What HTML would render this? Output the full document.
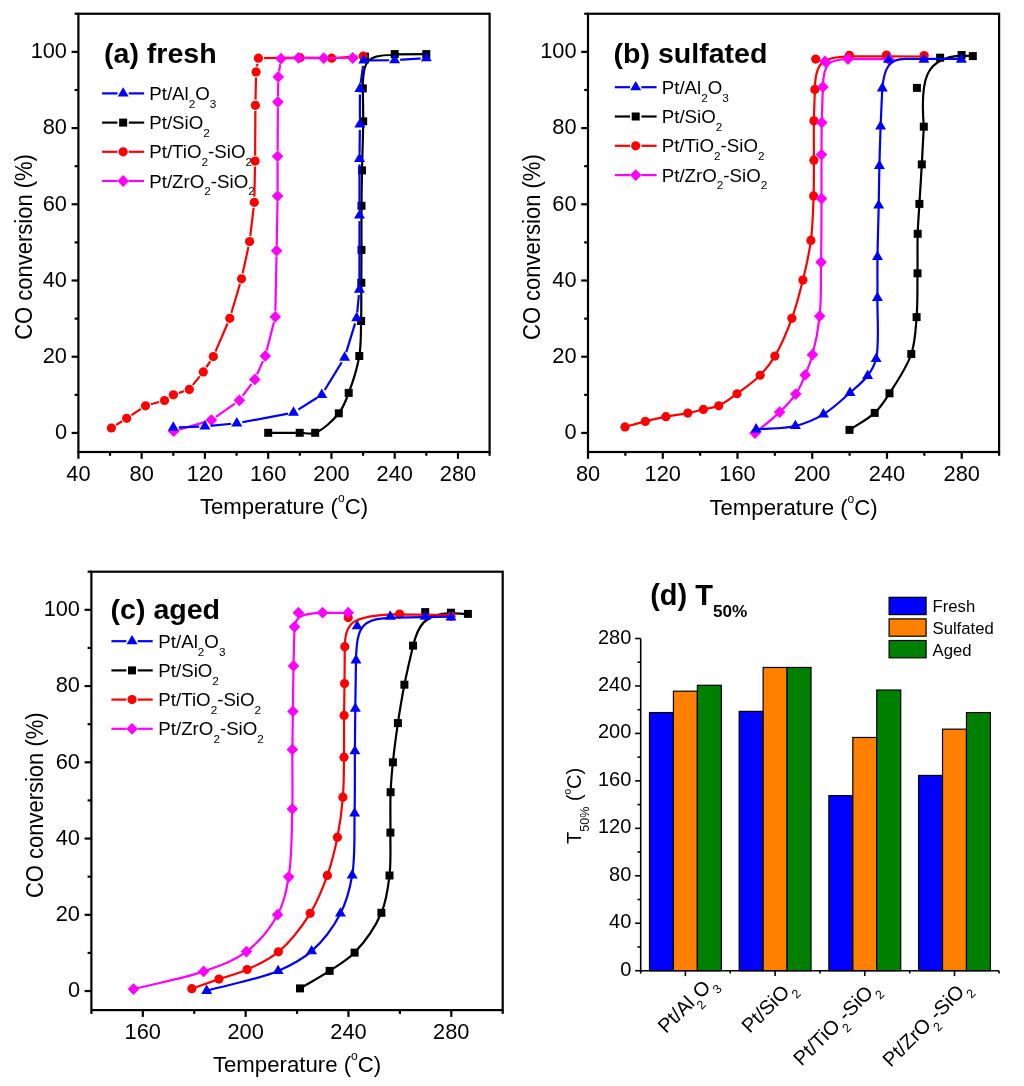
<!DOCTYPE html><html><head><meta charset="utf-8"><style>html,body{margin:0;padding:0;background:#fff;}svg{display:block;will-change:transform;}text{font-family:"Liberation Sans", sans-serif;fill:#000;}</style></head><body>
<svg width="1024" height="1086" viewBox="0 0 1024 1086">
<rect width="1024" height="1086" fill="#fff"/>
<defs><mask id="m0" maskUnits="userSpaceOnUse" x="0" y="0" width="1024" height="1086"><rect width="1024" height="1086" fill="#fff"/><circle cx="111.4" cy="428" r="5.7" fill="#000"/><circle cx="126.7" cy="418.3" r="5.7" fill="#000"/><circle cx="145.5" cy="405.8" r="5.7" fill="#000"/><circle cx="164.5" cy="400.5" r="5.7" fill="#000"/><circle cx="173.4" cy="394.8" r="5.7" fill="#000"/><circle cx="189.3" cy="389.4" r="5.7" fill="#000"/><circle cx="203.3" cy="371.9" r="5.7" fill="#000"/><circle cx="213.3" cy="356.6" r="5.7" fill="#000"/><circle cx="229.8" cy="318.3" r="5.7" fill="#000"/><circle cx="241.5" cy="278.8" r="5.7" fill="#000"/><circle cx="249.6" cy="241.5" r="5.7" fill="#000"/><circle cx="254.3" cy="202.3" r="5.7" fill="#000"/><circle cx="255.1" cy="161.1" r="5.7" fill="#000"/><circle cx="255.4" cy="105.3" r="5.7" fill="#000"/><circle cx="256.1" cy="71.9" r="5.7" fill="#000"/><circle cx="258.4" cy="58.2" r="5.7" fill="#000"/><circle cx="300" cy="57.7" r="5.7" fill="#000"/><circle cx="331.7" cy="58.2" r="5.7" fill="#000"/><circle cx="363.2" cy="56.2" r="5.7" fill="#000"/></mask><mask id="m1" maskUnits="userSpaceOnUse" x="0" y="0" width="1024" height="1086"><rect width="1024" height="1086" fill="#fff"/><circle cx="173.7" cy="431.2" r="5.7" fill="#000"/><circle cx="211.4" cy="420.1" r="5.7" fill="#000"/><circle cx="239.4" cy="400.3" r="5.7" fill="#000"/><circle cx="254.8" cy="379.4" r="5.7" fill="#000"/><circle cx="265.3" cy="355.9" r="5.7" fill="#000"/><circle cx="275.3" cy="316.8" r="5.7" fill="#000"/><circle cx="276.6" cy="250.7" r="5.7" fill="#000"/><circle cx="277.6" cy="196.1" r="5.7" fill="#000"/><circle cx="277.6" cy="156.3" r="5.7" fill="#000"/><circle cx="277.9" cy="102" r="5.7" fill="#000"/><circle cx="278.3" cy="76.9" r="5.7" fill="#000"/><circle cx="281" cy="58.7" r="5.7" fill="#000"/><circle cx="298.5" cy="57.8" r="5.7" fill="#000"/><circle cx="323.7" cy="58.2" r="5.7" fill="#000"/><circle cx="352.7" cy="58" r="5.7" fill="#000"/></mask><mask id="m2" maskUnits="userSpaceOnUse" x="0" y="0" width="1024" height="1086"><rect width="1024" height="1086" fill="#fff"/><circle cx="173.3" cy="427.57" r="5.7" fill="#000"/><circle cx="204.9" cy="426.37" r="5.7" fill="#000"/><circle cx="236.8" cy="423.27" r="5.7" fill="#000"/><circle cx="293.5" cy="412.57" r="5.7" fill="#000"/><circle cx="321.8" cy="394.77" r="5.7" fill="#000"/><circle cx="344.6" cy="357.57" r="5.7" fill="#000"/><circle cx="356.7" cy="318.07" r="5.7" fill="#000"/><circle cx="359.4" cy="289.57" r="5.7" fill="#000"/><circle cx="359.5" cy="215.47" r="5.7" fill="#000"/><circle cx="359.5" cy="158.87" r="5.7" fill="#000"/><circle cx="359.9" cy="124.27" r="5.7" fill="#000"/><circle cx="359.9" cy="88.87" r="5.7" fill="#000"/><circle cx="363.8" cy="60.37" r="5.7" fill="#000"/><circle cx="394.6" cy="60.07" r="5.7" fill="#000"/><circle cx="426.3" cy="58.17" r="5.7" fill="#000"/></mask></defs>
<rect x="78.4" y="13.75" width="411.2" height="438.25" fill="none" stroke="#000" stroke-width="2.2"/><line x1="71.6" y1="432.95" x2="78.4" y2="432.95" stroke="#000" stroke-width="2.2"/><text x="0" y="0" transform="translate(67 439.25)" font-size="21.8" text-anchor="end" font-weight="normal">0</text><line x1="71.6" y1="356.73" x2="78.4" y2="356.73" stroke="#000" stroke-width="2.2"/><text x="0" y="0" transform="translate(67 363.03)" font-size="21.8" text-anchor="end" font-weight="normal">20</text><line x1="71.6" y1="280.51" x2="78.4" y2="280.51" stroke="#000" stroke-width="2.2"/><text x="0" y="0" transform="translate(67 286.81)" font-size="21.8" text-anchor="end" font-weight="normal">40</text><line x1="71.6" y1="204.29" x2="78.4" y2="204.29" stroke="#000" stroke-width="2.2"/><text x="0" y="0" transform="translate(67 210.59)" font-size="21.8" text-anchor="end" font-weight="normal">60</text><line x1="71.6" y1="128.08" x2="78.4" y2="128.08" stroke="#000" stroke-width="2.2"/><text x="0" y="0" transform="translate(67 134.38)" font-size="21.8" text-anchor="end" font-weight="normal">80</text><line x1="71.6" y1="51.86" x2="78.4" y2="51.86" stroke="#000" stroke-width="2.2"/><text x="0" y="0" transform="translate(67 58.16)" font-size="21.8" text-anchor="end" font-weight="normal">100</text><line x1="74.6" y1="394.84" x2="78.4" y2="394.84" stroke="#000" stroke-width="2.2"/><line x1="74.6" y1="318.62" x2="78.4" y2="318.62" stroke="#000" stroke-width="2.2"/><line x1="74.6" y1="242.4" x2="78.4" y2="242.4" stroke="#000" stroke-width="2.2"/><line x1="74.6" y1="166.18" x2="78.4" y2="166.18" stroke="#000" stroke-width="2.2"/><line x1="74.6" y1="89.97" x2="78.4" y2="89.97" stroke="#000" stroke-width="2.2"/><line x1="74.6" y1="13.75" x2="78.4" y2="13.75" stroke="#000" stroke-width="2.2"/><line x1="78.4" y1="452" x2="78.4" y2="458.8" stroke="#000" stroke-width="2.2"/><text x="0" y="0" transform="translate(78.4 480.9)" font-size="21.8" text-anchor="middle" font-weight="normal">40</text><line x1="141.66" y1="452" x2="141.66" y2="458.8" stroke="#000" stroke-width="2.2"/><text x="0" y="0" transform="translate(141.66 480.9)" font-size="21.8" text-anchor="middle" font-weight="normal">80</text><line x1="204.92" y1="452" x2="204.92" y2="458.8" stroke="#000" stroke-width="2.2"/><text x="0" y="0" transform="translate(204.92 480.9)" font-size="21.8" text-anchor="middle" font-weight="normal">120</text><line x1="268.18" y1="452" x2="268.18" y2="458.8" stroke="#000" stroke-width="2.2"/><text x="0" y="0" transform="translate(268.18 480.9)" font-size="21.8" text-anchor="middle" font-weight="normal">160</text><line x1="331.45" y1="452" x2="331.45" y2="458.8" stroke="#000" stroke-width="2.2"/><text x="0" y="0" transform="translate(331.45 480.9)" font-size="21.8" text-anchor="middle" font-weight="normal">200</text><line x1="394.71" y1="452" x2="394.71" y2="458.8" stroke="#000" stroke-width="2.2"/><text x="0" y="0" transform="translate(394.71 480.9)" font-size="21.8" text-anchor="middle" font-weight="normal">240</text><line x1="457.97" y1="452" x2="457.97" y2="458.8" stroke="#000" stroke-width="2.2"/><text x="0" y="0" transform="translate(457.97 480.9)" font-size="21.8" text-anchor="middle" font-weight="normal">280</text><line x1="110.03" y1="452" x2="110.03" y2="455.8" stroke="#000" stroke-width="2.2"/><line x1="173.29" y1="452" x2="173.29" y2="455.8" stroke="#000" stroke-width="2.2"/><line x1="236.55" y1="452" x2="236.55" y2="455.8" stroke="#000" stroke-width="2.2"/><line x1="299.82" y1="452" x2="299.82" y2="455.8" stroke="#000" stroke-width="2.2"/><line x1="363.08" y1="452" x2="363.08" y2="455.8" stroke="#000" stroke-width="2.2"/><line x1="426.34" y1="452" x2="426.34" y2="455.8" stroke="#000" stroke-width="2.2"/><line x1="489.6" y1="452" x2="489.6" y2="455.8" stroke="#000" stroke-width="2.2"/><text x="0" y="0" transform="translate(32 339.8) rotate(-90) scale(1 1.09)" font-size="22" text-anchor="start" font-weight="normal">CO conversion (%)</text><text x="0" y="0" transform="translate(284 513.8)" font-size="22.2" text-anchor="middle" font-weight="normal">Temperature (<tspan font-size="12" dy="-11.8">o</tspan><tspan dy="11.8">C)</tspan></text><text x="0" y="0" transform="translate(104 63.4) scale(1.0200 1)" font-size="28" text-anchor="start" font-weight="bold">(a) fresh</text><line x1="102.1" y1="93.4" x2="117.45" y2="93.4" stroke="#0000ff" stroke-width="2.2"/><line x1="128.85" y1="93.4" x2="144.2" y2="93.4" stroke="#0000ff" stroke-width="2.2"/><path d="M123.15 87.13L128.65 96.53L117.65 96.53Z" fill="#0000ff"/><text x="0" y="0" transform="translate(149.25 99.9) scale(1.0500 1)" font-size="17.8" text-anchor="start" font-weight="normal">Pt/Al<tspan font-size="11.2" dy="7.85">2</tspan><tspan dy="-7.85">O</tspan><tspan font-size="11.2" dy="7.85">3</tspan></text><line x1="102.1" y1="122.6" x2="117.45" y2="122.6" stroke="#000000" stroke-width="2.2"/><line x1="128.85" y1="122.6" x2="144.2" y2="122.6" stroke="#000000" stroke-width="2.2"/><rect x="119.15" y="118.6" width="8" height="8" fill="#000000"/><text x="0" y="0" transform="translate(149.25 129.1) scale(1.0500 1)" font-size="17.8" text-anchor="start" font-weight="normal">Pt/SiO<tspan font-size="11.2" dy="7.85">2</tspan></text><line x1="102.1" y1="151.8" x2="117.45" y2="151.8" stroke="#ff0000" stroke-width="2.2"/><line x1="128.85" y1="151.8" x2="144.2" y2="151.8" stroke="#ff0000" stroke-width="2.2"/><circle cx="123.15" cy="151.8" r="4.6" fill="#ff0000"/><text x="0" y="0" transform="translate(149.25 158.3) scale(1.0500 1)" font-size="17.8" text-anchor="start" font-weight="normal">Pt/TiO<tspan font-size="11.2" dy="7.85">2</tspan><tspan dy="-7.85">-SiO</tspan><tspan font-size="11.2" dy="7.85">2</tspan></text><line x1="102.1" y1="181" x2="117.45" y2="181" stroke="#ff00ff" stroke-width="2.2"/><line x1="128.85" y1="181" x2="144.2" y2="181" stroke="#ff00ff" stroke-width="2.2"/><path d="M123.15 175.1L128.95 181L123.15 186.9L117.35 181Z" fill="#ff00ff"/><text x="0" y="0" transform="translate(149.25 187.5) scale(1.0500 1)" font-size="17.8" text-anchor="start" font-weight="normal">Pt/ZrO<tspan font-size="11.2" dy="7.85">2</tspan><tspan dy="-7.85">-SiO</tspan><tspan font-size="11.2" dy="7.85">2</tspan></text>
<path d="M268.2 432.8C278.7 432.8 291.04 432.8 299.7 432.8C305.77 432.8 309.85 434.72 315.2 432.8C322.71 430.1 333.1 420.55 338.8 413.3C343.71 407.06 345.65 400.85 348.7 392.9C352.66 382.55 357.25 368.25 359.3 356C361.26 344.29 360.76 332.93 361.1 321C361.45 308.55 361.23 295.06 361.3 282.8C361.36 271.42 361.46 261.67 361.5 249.9C361.54 236.27 361.4 219.69 361.5 205.8C361.59 193.35 361.75 183.16 362 170.4C362.29 155.37 363.11 136.03 363.2 121.3C363.27 109.24 362.93 99.37 362.8 88.4C362.6 60 368 55 391.3 55L394.7 54.4L426.3 54.1" fill="none" stroke="#000000" stroke-width="2.2" stroke-linejoin="round"/><rect x="264.2" y="428.8" width="8" height="8" fill="#000000"/><rect x="295.7" y="428.8" width="8" height="8" fill="#000000"/><rect x="311.2" y="428.8" width="8" height="8" fill="#000000"/><rect x="334.8" y="409.3" width="8" height="8" fill="#000000"/><rect x="344.7" y="388.9" width="8" height="8" fill="#000000"/><rect x="355.3" y="352" width="8" height="8" fill="#000000"/><rect x="357.1" y="317" width="8" height="8" fill="#000000"/><rect x="357.3" y="278.8" width="8" height="8" fill="#000000"/><rect x="357.5" y="245.9" width="8" height="8" fill="#000000"/><rect x="357.5" y="201.8" width="8" height="8" fill="#000000"/><rect x="358" y="166.4" width="8" height="8" fill="#000000"/><rect x="359.2" y="117.3" width="8" height="8" fill="#000000"/><rect x="358.8" y="84.4" width="8" height="8" fill="#000000"/><rect x="360.9" y="52.6" width="8" height="8" fill="#000000"/><rect x="390.7" y="50.1" width="8" height="8" fill="#000000"/><rect x="422.3" y="50.1" width="8" height="8" fill="#000000"/>
<path d="M111.4 428L126.7 418.3L145.5 405.8L164.5 400.5L173.4 394.8L189.3 389.4L203.3 371.9L213.3 356.6L229.8 318.3L241.5 278.8L249.6 241.5L254.3 202.3L255.1 161.1L255.4 105.3L256.1 71.9L258.4 58.2L300 57.7L331.7 58.2L363.2 56.2" fill="none" stroke="#ff0000" stroke-width="2.2" stroke-linejoin="round" mask="url(#m0)"/><circle cx="111.4" cy="428" r="4.6" fill="#ff0000"/><circle cx="126.7" cy="418.3" r="4.6" fill="#ff0000"/><circle cx="145.5" cy="405.8" r="4.6" fill="#ff0000"/><circle cx="164.5" cy="400.5" r="4.6" fill="#ff0000"/><circle cx="173.4" cy="394.8" r="4.6" fill="#ff0000"/><circle cx="189.3" cy="389.4" r="4.6" fill="#ff0000"/><circle cx="203.3" cy="371.9" r="4.6" fill="#ff0000"/><circle cx="213.3" cy="356.6" r="4.6" fill="#ff0000"/><circle cx="229.8" cy="318.3" r="4.6" fill="#ff0000"/><circle cx="241.5" cy="278.8" r="4.6" fill="#ff0000"/><circle cx="249.6" cy="241.5" r="4.6" fill="#ff0000"/><circle cx="254.3" cy="202.3" r="4.6" fill="#ff0000"/><circle cx="255.1" cy="161.1" r="4.6" fill="#ff0000"/><circle cx="255.4" cy="105.3" r="4.6" fill="#ff0000"/><circle cx="256.1" cy="71.9" r="4.6" fill="#ff0000"/><circle cx="258.4" cy="58.2" r="4.6" fill="#ff0000"/><circle cx="300" cy="57.7" r="4.6" fill="#ff0000"/><circle cx="331.7" cy="58.2" r="4.6" fill="#ff0000"/><circle cx="363.2" cy="56.2" r="4.6" fill="#ff0000"/>
<path d="M173.7 431.2L211.4 420.1L239.4 400.3L254.8 379.4L265.3 355.9L275.3 316.8L276.6 250.7L277.6 196.1L277.6 156.3L277.9 102L278.3 76.9L281 58.7L298.5 57.8L323.7 58.2L352.7 58" fill="none" stroke="#ff00ff" stroke-width="2.2" stroke-linejoin="round" mask="url(#m1)"/><path d="M173.7 425.3L179.5 431.2L173.7 437.1L167.9 431.2Z" fill="#ff00ff"/><path d="M211.4 414.2L217.2 420.1L211.4 426L205.6 420.1Z" fill="#ff00ff"/><path d="M239.4 394.4L245.2 400.3L239.4 406.2L233.6 400.3Z" fill="#ff00ff"/><path d="M254.8 373.5L260.6 379.4L254.8 385.3L249 379.4Z" fill="#ff00ff"/><path d="M265.3 350L271.1 355.9L265.3 361.8L259.5 355.9Z" fill="#ff00ff"/><path d="M275.3 310.9L281.1 316.8L275.3 322.7L269.5 316.8Z" fill="#ff00ff"/><path d="M276.6 244.8L282.4 250.7L276.6 256.6L270.8 250.7Z" fill="#ff00ff"/><path d="M277.6 190.2L283.4 196.1L277.6 202L271.8 196.1Z" fill="#ff00ff"/><path d="M277.6 150.4L283.4 156.3L277.6 162.2L271.8 156.3Z" fill="#ff00ff"/><path d="M277.9 96.1L283.7 102L277.9 107.9L272.1 102Z" fill="#ff00ff"/><path d="M278.3 71L284.1 76.9L278.3 82.8L272.5 76.9Z" fill="#ff00ff"/><path d="M281 52.8L286.8 58.7L281 64.6L275.2 58.7Z" fill="#ff00ff"/><path d="M298.5 51.9L304.3 57.8L298.5 63.7L292.7 57.8Z" fill="#ff00ff"/><path d="M323.7 52.3L329.5 58.2L323.7 64.1L317.9 58.2Z" fill="#ff00ff"/><path d="M352.7 52.1L358.5 58L352.7 63.9L346.9 58Z" fill="#ff00ff"/>
<path d="M173.3 427.57L204.9 426.37L236.8 423.27L293.5 412.57L321.8 394.77L344.6 357.57L356.7 318.07L359.4 289.57L359.5 215.47L359.5 158.87L359.9 124.27L359.9 88.87L363.8 60.37L394.6 60.07L426.3 58.17" fill="none" stroke="#0000ff" stroke-width="2.2" stroke-linejoin="round" mask="url(#m2)"/><path d="M173.3 421.3L178.8 430.7L167.8 430.7Z" fill="#0000ff"/><path d="M204.9 420.1L210.4 429.5L199.4 429.5Z" fill="#0000ff"/><path d="M236.8 417L242.3 426.4L231.3 426.4Z" fill="#0000ff"/><path d="M293.5 406.3L299 415.7L288 415.7Z" fill="#0000ff"/><path d="M321.8 388.5L327.3 397.9L316.3 397.9Z" fill="#0000ff"/><path d="M344.6 351.3L350.1 360.7L339.1 360.7Z" fill="#0000ff"/><path d="M356.7 311.8L362.2 321.2L351.2 321.2Z" fill="#0000ff"/><path d="M359.4 283.3L364.9 292.7L353.9 292.7Z" fill="#0000ff"/><path d="M359.5 209.2L365 218.6L354 218.6Z" fill="#0000ff"/><path d="M359.5 152.6L365 162L354 162Z" fill="#0000ff"/><path d="M359.9 118L365.4 127.4L354.4 127.4Z" fill="#0000ff"/><path d="M359.9 82.6L365.4 92L354.4 92Z" fill="#0000ff"/><path d="M363.8 54.1L369.3 63.5L358.3 63.5Z" fill="#0000ff"/><path d="M394.6 53.8L400.1 63.2L389.1 63.2Z" fill="#0000ff"/><path d="M426.3 51.9L431.8 61.3L420.8 61.3Z" fill="#0000ff"/>
<rect x="588" y="13.75" width="411.1" height="438.25" fill="none" stroke="#000" stroke-width="2.2"/><line x1="581.2" y1="432.95" x2="588" y2="432.95" stroke="#000" stroke-width="2.2"/><text x="0" y="0" transform="translate(576.6 439.25)" font-size="21.8" text-anchor="end" font-weight="normal">0</text><line x1="581.2" y1="356.73" x2="588" y2="356.73" stroke="#000" stroke-width="2.2"/><text x="0" y="0" transform="translate(576.6 363.03)" font-size="21.8" text-anchor="end" font-weight="normal">20</text><line x1="581.2" y1="280.51" x2="588" y2="280.51" stroke="#000" stroke-width="2.2"/><text x="0" y="0" transform="translate(576.6 286.81)" font-size="21.8" text-anchor="end" font-weight="normal">40</text><line x1="581.2" y1="204.29" x2="588" y2="204.29" stroke="#000" stroke-width="2.2"/><text x="0" y="0" transform="translate(576.6 210.59)" font-size="21.8" text-anchor="end" font-weight="normal">60</text><line x1="581.2" y1="128.08" x2="588" y2="128.08" stroke="#000" stroke-width="2.2"/><text x="0" y="0" transform="translate(576.6 134.38)" font-size="21.8" text-anchor="end" font-weight="normal">80</text><line x1="581.2" y1="51.86" x2="588" y2="51.86" stroke="#000" stroke-width="2.2"/><text x="0" y="0" transform="translate(576.6 58.16)" font-size="21.8" text-anchor="end" font-weight="normal">100</text><line x1="584.2" y1="394.84" x2="588" y2="394.84" stroke="#000" stroke-width="2.2"/><line x1="584.2" y1="318.62" x2="588" y2="318.62" stroke="#000" stroke-width="2.2"/><line x1="584.2" y1="242.4" x2="588" y2="242.4" stroke="#000" stroke-width="2.2"/><line x1="584.2" y1="166.18" x2="588" y2="166.18" stroke="#000" stroke-width="2.2"/><line x1="584.2" y1="89.97" x2="588" y2="89.97" stroke="#000" stroke-width="2.2"/><line x1="584.2" y1="13.75" x2="588" y2="13.75" stroke="#000" stroke-width="2.2"/><line x1="588" y1="452" x2="588" y2="458.8" stroke="#000" stroke-width="2.2"/><text x="0" y="0" transform="translate(588 480.9)" font-size="21.8" text-anchor="middle" font-weight="normal">80</text><line x1="662.75" y1="452" x2="662.75" y2="458.8" stroke="#000" stroke-width="2.2"/><text x="0" y="0" transform="translate(662.75 480.9)" font-size="21.8" text-anchor="middle" font-weight="normal">120</text><line x1="737.49" y1="452" x2="737.49" y2="458.8" stroke="#000" stroke-width="2.2"/><text x="0" y="0" transform="translate(737.49 480.9)" font-size="21.8" text-anchor="middle" font-weight="normal">160</text><line x1="812.24" y1="452" x2="812.24" y2="458.8" stroke="#000" stroke-width="2.2"/><text x="0" y="0" transform="translate(812.24 480.9)" font-size="21.8" text-anchor="middle" font-weight="normal">200</text><line x1="886.98" y1="452" x2="886.98" y2="458.8" stroke="#000" stroke-width="2.2"/><text x="0" y="0" transform="translate(886.98 480.9)" font-size="21.8" text-anchor="middle" font-weight="normal">240</text><line x1="961.73" y1="452" x2="961.73" y2="458.8" stroke="#000" stroke-width="2.2"/><text x="0" y="0" transform="translate(961.73 480.9)" font-size="21.8" text-anchor="middle" font-weight="normal">280</text><line x1="625.37" y1="452" x2="625.37" y2="455.8" stroke="#000" stroke-width="2.2"/><line x1="700.12" y1="452" x2="700.12" y2="455.8" stroke="#000" stroke-width="2.2"/><line x1="774.86" y1="452" x2="774.86" y2="455.8" stroke="#000" stroke-width="2.2"/><line x1="849.61" y1="452" x2="849.61" y2="455.8" stroke="#000" stroke-width="2.2"/><line x1="924.35" y1="452" x2="924.35" y2="455.8" stroke="#000" stroke-width="2.2"/><line x1="999.1" y1="452" x2="999.1" y2="455.8" stroke="#000" stroke-width="2.2"/><text x="0" y="0" transform="translate(539.6 340) rotate(-90) scale(1 1.09)" font-size="22" text-anchor="start" font-weight="normal">CO conversion (%)</text><text x="0" y="0" transform="translate(793.55 515.1)" font-size="22.2" text-anchor="middle" font-weight="normal">Temperature (<tspan font-size="12" dy="-11.8">o</tspan><tspan dy="11.8">C)</tspan></text><text x="0" y="0" transform="translate(613.6 63) scale(1.0200 1)" font-size="28" text-anchor="start" font-weight="bold">(b) sulfated</text><line x1="614.8" y1="87.2" x2="630" y2="87.2" stroke="#0000ff" stroke-width="2.2"/><line x1="641.4" y1="87.2" x2="656.6" y2="87.2" stroke="#0000ff" stroke-width="2.2"/><path d="M635.7 80.93L641.2 90.33L630.2 90.33Z" fill="#0000ff"/><text x="0" y="0" transform="translate(661.75 93.7) scale(1.0500 1)" font-size="17.8" text-anchor="start" font-weight="normal">Pt/Al<tspan font-size="11.2" dy="7.85">2</tspan><tspan dy="-7.85">O</tspan><tspan font-size="11.2" dy="7.85">3</tspan></text><line x1="614.8" y1="116.5" x2="630" y2="116.5" stroke="#000000" stroke-width="2.2"/><line x1="641.4" y1="116.5" x2="656.6" y2="116.5" stroke="#000000" stroke-width="2.2"/><rect x="631.7" y="112.5" width="8" height="8" fill="#000000"/><text x="0" y="0" transform="translate(661.75 123) scale(1.0500 1)" font-size="17.8" text-anchor="start" font-weight="normal">Pt/SiO<tspan font-size="11.2" dy="7.85">2</tspan></text><line x1="614.8" y1="145.8" x2="630" y2="145.8" stroke="#ff0000" stroke-width="2.2"/><line x1="641.4" y1="145.8" x2="656.6" y2="145.8" stroke="#ff0000" stroke-width="2.2"/><circle cx="635.7" cy="145.8" r="4.6" fill="#ff0000"/><text x="0" y="0" transform="translate(661.75 152.3) scale(1.0500 1)" font-size="17.8" text-anchor="start" font-weight="normal">Pt/TiO<tspan font-size="11.2" dy="7.85">2</tspan><tspan dy="-7.85">-SiO</tspan><tspan font-size="11.2" dy="7.85">2</tspan></text><line x1="614.8" y1="175.1" x2="630" y2="175.1" stroke="#ff00ff" stroke-width="2.2"/><line x1="641.4" y1="175.1" x2="656.6" y2="175.1" stroke="#ff00ff" stroke-width="2.2"/><path d="M635.7 169.2L641.5 175.1L635.7 181L629.9 175.1Z" fill="#ff00ff"/><text x="0" y="0" transform="translate(661.75 181.6) scale(1.0500 1)" font-size="17.8" text-anchor="start" font-weight="normal">Pt/ZrO<tspan font-size="11.2" dy="7.85">2</tspan><tspan dy="-7.85">-SiO</tspan><tspan font-size="11.2" dy="7.85">2</tspan></text>
<path d="M849.5 429.9C857.9 424.23 867.83 419.41 874.7 412.9C880.87 407.05 884.38 401.17 889.5 393.3C896.43 382.65 906.82 367.31 911.3 354C915.38 341.88 915.55 329.96 916.6 317.1C917.74 303.16 917.32 287.52 917.5 273.3C917.67 259.79 917.32 246.05 917.7 233.8C918.03 223.14 918.77 214.56 919.4 203.9C920.12 191.65 921.06 177.41 921.8 164.4C922.52 151.69 923.13 139.27 923.8 126.7C920 80 925 57 962 55.6L972.8 56.1" fill="none" stroke="#000000" stroke-width="2.2" stroke-linejoin="round"/><rect x="845.5" y="425.9" width="8" height="8" fill="#000000"/><rect x="870.7" y="408.9" width="8" height="8" fill="#000000"/><rect x="885.5" y="389.3" width="8" height="8" fill="#000000"/><rect x="907.3" y="350" width="8" height="8" fill="#000000"/><rect x="912.6" y="313.1" width="8" height="8" fill="#000000"/><rect x="913.5" y="269.3" width="8" height="8" fill="#000000"/><rect x="913.7" y="229.8" width="8" height="8" fill="#000000"/><rect x="915.4" y="199.9" width="8" height="8" fill="#000000"/><rect x="917.8" y="160.4" width="8" height="8" fill="#000000"/><rect x="919.8" y="122.7" width="8" height="8" fill="#000000"/><rect x="912.9" y="83.9" width="8" height="8" fill="#000000"/><rect x="936.1" y="53.7" width="8" height="8" fill="#000000"/><rect x="957.6" y="51" width="8" height="8" fill="#000000"/><rect x="968.8" y="52.1" width="8" height="8" fill="#000000"/>
<path d="M625 426.9C631.77 425.07 638.49 423.1 645.3 421.4C652.12 419.7 658.91 418.07 665.9 416.7C673.07 415.29 681.14 414.44 687.8 413.1C693.46 411.96 698.22 410.62 703.4 409.4C708.54 408.19 713.61 408.02 718.75 405.8C724.8 403.19 730.66 398.36 737 393.75C744.39 388.38 753.68 381.9 760.2 375.25C766.08 369.26 770.25 363.88 774.9 356.1C780.99 345.9 787.2 331.1 791.9 318.3C796.5 305.76 799.74 293.02 802.9 280.1C806.09 267.06 809.12 254.07 810.9 240.4C812.77 226.05 813.12 209.92 813.6 195.9C814.03 183.35 813.85 172.39 813.9 160.2C813.95 147.39 813.7 133.19 813.9 120.8C814.08 109.74 814.57 99.87 814.9 89.4C815.2 62 822 57 849.4 56.3L886.5 56.4L924.2 56.5" fill="none" stroke="#ff0000" stroke-width="2.2" stroke-linejoin="round"/><circle cx="625" cy="426.9" r="4.6" fill="#ff0000"/><circle cx="645.3" cy="421.4" r="4.6" fill="#ff0000"/><circle cx="665.9" cy="416.7" r="4.6" fill="#ff0000"/><circle cx="687.8" cy="413.1" r="4.6" fill="#ff0000"/><circle cx="703.4" cy="409.4" r="4.6" fill="#ff0000"/><circle cx="718.75" cy="405.8" r="4.6" fill="#ff0000"/><circle cx="737" cy="393.75" r="4.6" fill="#ff0000"/><circle cx="760.2" cy="375.25" r="4.6" fill="#ff0000"/><circle cx="774.9" cy="356.1" r="4.6" fill="#ff0000"/><circle cx="791.9" cy="318.3" r="4.6" fill="#ff0000"/><circle cx="802.9" cy="280.1" r="4.6" fill="#ff0000"/><circle cx="810.9" cy="240.4" r="4.6" fill="#ff0000"/><circle cx="813.6" cy="195.9" r="4.6" fill="#ff0000"/><circle cx="813.9" cy="160.2" r="4.6" fill="#ff0000"/><circle cx="813.9" cy="120.8" r="4.6" fill="#ff0000"/><circle cx="814.9" cy="89.4" r="4.6" fill="#ff0000"/><circle cx="815.7" cy="59.1" r="4.6" fill="#ff0000"/><circle cx="849.4" cy="55.4" r="4.6" fill="#ff0000"/><circle cx="886.5" cy="55.1" r="4.6" fill="#ff0000"/><circle cx="924.2" cy="55.6" r="4.6" fill="#ff0000"/>
<path d="M755 433.1C763.22 426.1 772.5 419.07 779.65 412.1C785.83 406.08 791.47 400.52 795.8 394.1C799.87 388.07 802.42 381.46 805.2 374.9C807.99 368.33 810.35 362.61 812.5 354.7C815.4 344.02 818.17 330.18 819.65 316.2C821.38 299.78 820.79 280.94 821.1 262.2C821.44 241.87 821.44 217.85 821.5 198.6C821.55 182.59 821.44 168.1 821.5 154.6C821.55 143.09 821.58 133.55 821.8 122.6C822.03 111.05 822.53 98.87 822.9 87C823.3 63 829 59.5 848 59L889 59.2" fill="none" stroke="#ff00ff" stroke-width="2.2" stroke-linejoin="round"/><path d="M755 427.2L760.8 433.1L755 439L749.2 433.1Z" fill="#ff00ff"/><path d="M779.65 406.2L785.45 412.1L779.65 418L773.85 412.1Z" fill="#ff00ff"/><path d="M795.8 388.2L801.6 394.1L795.8 400L790 394.1Z" fill="#ff00ff"/><path d="M805.2 369L811 374.9L805.2 380.8L799.4 374.9Z" fill="#ff00ff"/><path d="M812.5 348.8L818.3 354.7L812.5 360.6L806.7 354.7Z" fill="#ff00ff"/><path d="M819.65 310.3L825.45 316.2L819.65 322.1L813.85 316.2Z" fill="#ff00ff"/><path d="M821.1 256.3L826.9 262.2L821.1 268.1L815.3 262.2Z" fill="#ff00ff"/><path d="M821.5 192.7L827.3 198.6L821.5 204.5L815.7 198.6Z" fill="#ff00ff"/><path d="M821.5 148.7L827.3 154.6L821.5 160.5L815.7 154.6Z" fill="#ff00ff"/><path d="M821.8 116.7L827.6 122.6L821.8 128.5L816 122.6Z" fill="#ff00ff"/><path d="M822.9 81.1L828.7 87L822.9 92.9L817.1 87Z" fill="#ff00ff"/><path d="M825 55.4L830.8 61.3L825 67.2L819.2 61.3Z" fill="#ff00ff"/><path d="M848 53.1L853.8 59L848 64.9L842.2 59Z" fill="#ff00ff"/><path d="M889 53.6L894.8 59.5L889 65.4L883.2 59.5Z" fill="#ff00ff"/>
<path d="M756.1 429.37C769.2 428.23 783.61 428.85 795.4 425.97C805.74 423.44 814.55 419.64 823.4 414.37C832.81 408.76 842.18 399.7 850 392.77C856.61 386.91 863.14 381.82 867.6 375.77C871.51 370.46 874.19 366.6 876.1 358.97C879.54 345.21 877.18 316.21 877.4 297.87C877.58 282.84 877.31 271.3 877.5 256.87C877.71 240.7 878.37 221.47 878.7 205.47C878.99 191.43 879.08 179.13 879.4 165.97C879.72 152.8 880.11 139.52 880.6 126.47C881.08 113.63 881.73 101 882.3 88.27C884.5 66 890 59.2 905 58.9L961.4 58.9" fill="none" stroke="#0000ff" stroke-width="2.2" stroke-linejoin="round"/><path d="M756.1 423.1L761.6 432.5L750.6 432.5Z" fill="#0000ff"/><path d="M795.4 419.7L800.9 429.1L789.9 429.1Z" fill="#0000ff"/><path d="M823.4 408.1L828.9 417.5L817.9 417.5Z" fill="#0000ff"/><path d="M850 386.5L855.5 395.9L844.5 395.9Z" fill="#0000ff"/><path d="M867.6 369.5L873.1 378.9L862.1 378.9Z" fill="#0000ff"/><path d="M876.1 352.7L881.6 362.1L870.6 362.1Z" fill="#0000ff"/><path d="M877.4 291.6L882.9 301L871.9 301Z" fill="#0000ff"/><path d="M877.5 250.6L883 260L872 260Z" fill="#0000ff"/><path d="M878.7 199.2L884.2 208.6L873.2 208.6Z" fill="#0000ff"/><path d="M879.4 159.7L884.9 169.1L873.9 169.1Z" fill="#0000ff"/><path d="M880.6 120.2L886.1 129.6L875.1 129.6Z" fill="#0000ff"/><path d="M882.3 82L887.8 91.4L876.8 91.4Z" fill="#0000ff"/><path d="M888.5 53.4L894 62.8L883 62.8Z" fill="#0000ff"/><path d="M923.9 53.4L929.4 62.8L918.4 62.8Z" fill="#0000ff"/><path d="M961.4 53.4L966.9 62.8L955.9 62.8Z" fill="#0000ff"/>
<rect x="91.4" y="571.7" width="411.3" height="438.4" fill="none" stroke="#000" stroke-width="2.2"/><line x1="84.6" y1="991.04" x2="91.4" y2="991.04" stroke="#000" stroke-width="2.2"/><text x="0" y="0" transform="translate(80 997.34)" font-size="21.8" text-anchor="end" font-weight="normal">0</text><line x1="84.6" y1="914.8" x2="91.4" y2="914.8" stroke="#000" stroke-width="2.2"/><text x="0" y="0" transform="translate(80 921.1)" font-size="21.8" text-anchor="end" font-weight="normal">20</text><line x1="84.6" y1="838.55" x2="91.4" y2="838.55" stroke="#000" stroke-width="2.2"/><text x="0" y="0" transform="translate(80 844.85)" font-size="21.8" text-anchor="end" font-weight="normal">40</text><line x1="84.6" y1="762.31" x2="91.4" y2="762.31" stroke="#000" stroke-width="2.2"/><text x="0" y="0" transform="translate(80 768.61)" font-size="21.8" text-anchor="end" font-weight="normal">60</text><line x1="84.6" y1="686.07" x2="91.4" y2="686.07" stroke="#000" stroke-width="2.2"/><text x="0" y="0" transform="translate(80 692.37)" font-size="21.8" text-anchor="end" font-weight="normal">80</text><line x1="84.6" y1="609.82" x2="91.4" y2="609.82" stroke="#000" stroke-width="2.2"/><text x="0" y="0" transform="translate(80 616.12)" font-size="21.8" text-anchor="end" font-weight="normal">100</text><line x1="87.6" y1="952.92" x2="91.4" y2="952.92" stroke="#000" stroke-width="2.2"/><line x1="87.6" y1="876.67" x2="91.4" y2="876.67" stroke="#000" stroke-width="2.2"/><line x1="87.6" y1="800.43" x2="91.4" y2="800.43" stroke="#000" stroke-width="2.2"/><line x1="87.6" y1="724.19" x2="91.4" y2="724.19" stroke="#000" stroke-width="2.2"/><line x1="87.6" y1="647.94" x2="91.4" y2="647.94" stroke="#000" stroke-width="2.2"/><line x1="87.6" y1="571.7" x2="91.4" y2="571.7" stroke="#000" stroke-width="2.2"/><line x1="142.81" y1="1010.1" x2="142.81" y2="1016.9" stroke="#000" stroke-width="2.2"/><text x="0" y="0" transform="translate(142.81 1039)" font-size="21.8" text-anchor="middle" font-weight="normal">160</text><line x1="245.64" y1="1010.1" x2="245.64" y2="1016.9" stroke="#000" stroke-width="2.2"/><text x="0" y="0" transform="translate(245.64 1039)" font-size="21.8" text-anchor="middle" font-weight="normal">200</text><line x1="348.46" y1="1010.1" x2="348.46" y2="1016.9" stroke="#000" stroke-width="2.2"/><text x="0" y="0" transform="translate(348.46 1039)" font-size="21.8" text-anchor="middle" font-weight="normal">240</text><line x1="451.29" y1="1010.1" x2="451.29" y2="1016.9" stroke="#000" stroke-width="2.2"/><text x="0" y="0" transform="translate(451.29 1039)" font-size="21.8" text-anchor="middle" font-weight="normal">280</text><line x1="91.4" y1="1010.1" x2="91.4" y2="1013.9" stroke="#000" stroke-width="2.2"/><line x1="194.22" y1="1010.1" x2="194.22" y2="1013.9" stroke="#000" stroke-width="2.2"/><line x1="297.05" y1="1010.1" x2="297.05" y2="1013.9" stroke="#000" stroke-width="2.2"/><line x1="399.88" y1="1010.1" x2="399.88" y2="1013.9" stroke="#000" stroke-width="2.2"/><line x1="502.7" y1="1010.1" x2="502.7" y2="1013.9" stroke="#000" stroke-width="2.2"/><text x="0" y="0" transform="translate(43.1 898.1) rotate(-90) scale(1 1.09)" font-size="22" text-anchor="start" font-weight="normal">CO conversion (%)</text><text x="0" y="0" transform="translate(297.05 1072.2)" font-size="22.2" text-anchor="middle" font-weight="normal">Temperature (<tspan font-size="12" dy="-11.8">o</tspan><tspan dy="11.8">C)</tspan></text><text x="0" y="0" transform="translate(110.6 619.1) scale(1.0200 1)" font-size="28" text-anchor="start" font-weight="bold">(c) aged</text><line x1="111.4" y1="641.2" x2="126.35" y2="641.2" stroke="#0000ff" stroke-width="2.2"/><line x1="137.75" y1="641.2" x2="152.7" y2="641.2" stroke="#0000ff" stroke-width="2.2"/><path d="M132.05 634.93L137.55 644.33L126.55 644.33Z" fill="#0000ff"/><text x="0" y="0" transform="translate(158.35 647.7) scale(1.0500 1)" font-size="17.8" text-anchor="start" font-weight="normal">Pt/Al<tspan font-size="11.2" dy="7.85">2</tspan><tspan dy="-7.85">O</tspan><tspan font-size="11.2" dy="7.85">3</tspan></text><line x1="111.4" y1="670.4" x2="126.35" y2="670.4" stroke="#000000" stroke-width="2.2"/><line x1="137.75" y1="670.4" x2="152.7" y2="670.4" stroke="#000000" stroke-width="2.2"/><rect x="128.05" y="666.4" width="8" height="8" fill="#000000"/><text x="0" y="0" transform="translate(158.35 676.9) scale(1.0500 1)" font-size="17.8" text-anchor="start" font-weight="normal">Pt/SiO<tspan font-size="11.2" dy="7.85">2</tspan></text><line x1="111.4" y1="699.6" x2="126.35" y2="699.6" stroke="#ff0000" stroke-width="2.2"/><line x1="137.75" y1="699.6" x2="152.7" y2="699.6" stroke="#ff0000" stroke-width="2.2"/><circle cx="132.05" cy="699.6" r="4.6" fill="#ff0000"/><text x="0" y="0" transform="translate(158.35 706.1) scale(1.0500 1)" font-size="17.8" text-anchor="start" font-weight="normal">Pt/TiO<tspan font-size="11.2" dy="7.85">2</tspan><tspan dy="-7.85">-SiO</tspan><tspan font-size="11.2" dy="7.85">2</tspan></text><line x1="111.4" y1="728.8" x2="126.35" y2="728.8" stroke="#ff00ff" stroke-width="2.2"/><line x1="137.75" y1="728.8" x2="152.7" y2="728.8" stroke="#ff00ff" stroke-width="2.2"/><path d="M132.05 722.9L137.85 728.8L132.05 734.7L126.25 728.8Z" fill="#ff00ff"/><text x="0" y="0" transform="translate(158.35 735.3) scale(1.0500 1)" font-size="17.8" text-anchor="start" font-weight="normal">Pt/ZrO<tspan font-size="11.2" dy="7.85">2</tspan><tspan dy="-7.85">-SiO</tspan><tspan font-size="11.2" dy="7.85">2</tspan></text>
<path d="M300 988.4C309.87 982.57 320.29 977.04 329.6 970.9C338.44 965.07 346.78 960.73 354.6 952.6C364.33 942.48 375.59 926.42 381.4 912.8C386.58 900.65 387.97 888.44 389.5 875.5C391.12 861.77 390.22 846.69 390.4 832.6C390.58 818.93 390.09 804.65 390.6 792.2C391.04 781.48 391.81 772.93 392.9 762.3C394.15 750.1 395.97 736.08 397.9 723.1C399.81 710.21 401.9 697.52 404.4 684.7C406.94 671.71 410.17 658.67 413.05 645.65C418 626 424 614 450.9 613.2L468 614.1" fill="none" stroke="#000000" stroke-width="2.2" stroke-linejoin="round"/><rect x="296" y="984.4" width="8" height="8" fill="#000000"/><rect x="325.6" y="966.9" width="8" height="8" fill="#000000"/><rect x="350.6" y="948.6" width="8" height="8" fill="#000000"/><rect x="377.4" y="908.8" width="8" height="8" fill="#000000"/><rect x="385.5" y="871.5" width="8" height="8" fill="#000000"/><rect x="386.4" y="828.6" width="8" height="8" fill="#000000"/><rect x="386.6" y="788.2" width="8" height="8" fill="#000000"/><rect x="388.9" y="758.3" width="8" height="8" fill="#000000"/><rect x="393.9" y="719.1" width="8" height="8" fill="#000000"/><rect x="400.4" y="680.7" width="8" height="8" fill="#000000"/><rect x="409.05" y="641.65" width="8" height="8" fill="#000000"/><rect x="421.2" y="608.1" width="8" height="8" fill="#000000"/><rect x="447" y="608.7" width="8" height="8" fill="#000000"/><rect x="463.9" y="609.9" width="8" height="8" fill="#000000"/>
<path d="M191.8 988.7C200.85 985.5 209.8 982.27 218.95 979.1C228.25 975.87 237.71 973.74 247.15 969.5C257.52 964.85 268.64 959.99 278.4 951.8C289.91 942.15 301.87 926.66 310.2 913.3C317.81 901.11 322.79 888.24 327.35 875.4C331.79 862.9 334.82 850.24 337.4 837.3C340.02 824.18 341.8 810.59 342.9 797.2C343.99 783.89 343.8 770.68 344 757.2C344.21 743.42 344 728.39 344.1 715.4C344.18 704.05 344.39 694.51 344.5 683.5C344.62 671.67 344.7 658.97 344.8 646.7C345.3 622 353 615.5 395 614.3L451.3 615.2" fill="none" stroke="#ff0000" stroke-width="2.2" stroke-linejoin="round"/><circle cx="191.8" cy="988.7" r="4.6" fill="#ff0000"/><circle cx="218.95" cy="979.1" r="4.6" fill="#ff0000"/><circle cx="247.15" cy="969.5" r="4.6" fill="#ff0000"/><circle cx="278.4" cy="951.8" r="4.6" fill="#ff0000"/><circle cx="310.2" cy="913.3" r="4.6" fill="#ff0000"/><circle cx="327.35" cy="875.4" r="4.6" fill="#ff0000"/><circle cx="337.4" cy="837.3" r="4.6" fill="#ff0000"/><circle cx="342.9" cy="797.2" r="4.6" fill="#ff0000"/><circle cx="344" cy="757.2" r="4.6" fill="#ff0000"/><circle cx="344.1" cy="715.4" r="4.6" fill="#ff0000"/><circle cx="344.5" cy="683.5" r="4.6" fill="#ff0000"/><circle cx="344.8" cy="646.7" r="4.6" fill="#ff0000"/><circle cx="348.2" cy="617.6" r="4.6" fill="#ff0000"/><circle cx="399.6" cy="614.1" r="4.6" fill="#ff0000"/><circle cx="451" cy="616.3" r="4.6" fill="#ff0000"/>
<path d="M133.5 989.1C156.87 983.2 183.37 978.55 203.6 971.4C219.95 965.62 234.21 960.97 246.5 951.6C258.92 942.13 270.53 927.87 277.6 914.7C284 902.78 286.2 891.43 288.7 876.8C291.97 857.6 291.71 830.77 292.3 808.9C292.85 788.47 292.22 767.21 292.35 749.6C292.46 735.44 292.72 724.61 292.9 711.3C293.1 696.81 293.22 680.47 293.5 665.9C293.76 652.38 294.17 639.83 294.5 626.8C296 617 301 613 322.6 612.8L348.2 612.8" fill="none" stroke="#ff00ff" stroke-width="2.2" stroke-linejoin="round"/><path d="M133.5 983.2L139.3 989.1L133.5 995L127.7 989.1Z" fill="#ff00ff"/><path d="M203.6 965.5L209.4 971.4L203.6 977.3L197.8 971.4Z" fill="#ff00ff"/><path d="M246.5 945.7L252.3 951.6L246.5 957.5L240.7 951.6Z" fill="#ff00ff"/><path d="M277.6 908.8L283.4 914.7L277.6 920.6L271.8 914.7Z" fill="#ff00ff"/><path d="M288.7 870.9L294.5 876.8L288.7 882.7L282.9 876.8Z" fill="#ff00ff"/><path d="M292.3 803L298.1 808.9L292.3 814.8L286.5 808.9Z" fill="#ff00ff"/><path d="M292.35 743.7L298.15 749.6L292.35 755.5L286.55 749.6Z" fill="#ff00ff"/><path d="M292.9 705.4L298.7 711.3L292.9 717.2L287.1 711.3Z" fill="#ff00ff"/><path d="M293.5 660L299.3 665.9L293.5 671.8L287.7 665.9Z" fill="#ff00ff"/><path d="M294.5 620.9L300.3 626.8L294.5 632.7L288.7 626.8Z" fill="#ff00ff"/><path d="M298.4 606.8L304.2 612.7L298.4 618.6L292.6 612.7Z" fill="#ff00ff"/><path d="M322.6 606.8L328.4 612.7L322.6 618.6L316.8 612.7Z" fill="#ff00ff"/><path d="M348.2 606.8L354 612.7L348.2 618.6L342.4 612.7Z" fill="#ff00ff"/>
<path d="M206.65 990.77C230.47 984.17 259.16 979.02 278.1 970.97C291.82 965.13 301.6 960.04 311.6 951.17C322.64 941.37 333.62 926.72 340.45 913.47C346.71 901.31 349.74 889.71 352.2 875.27C355.26 857.29 354.15 834.07 354.6 813.42C355.05 792.7 354.77 769.95 354.9 751.17C355.01 735.62 355.13 723.21 355.3 708.57C355.49 692.97 355.77 676.37 356 660.27C356.8 625 362 618.5 395 617.6L451.3 616.6" fill="none" stroke="#0000ff" stroke-width="2.2" stroke-linejoin="round"/><path d="M206.65 984.5L212.15 993.9L201.15 993.9Z" fill="#0000ff"/><path d="M278.1 964.7L283.6 974.1L272.6 974.1Z" fill="#0000ff"/><path d="M311.6 944.9L317.1 954.3L306.1 954.3Z" fill="#0000ff"/><path d="M340.45 907.2L345.95 916.6L334.95 916.6Z" fill="#0000ff"/><path d="M352.2 869L357.7 878.4L346.7 878.4Z" fill="#0000ff"/><path d="M354.6 807.15L360.1 816.55L349.1 816.55Z" fill="#0000ff"/><path d="M354.9 744.9L360.4 754.3L349.4 754.3Z" fill="#0000ff"/><path d="M355.3 702.3L360.8 711.7L349.8 711.7Z" fill="#0000ff"/><path d="M356 654L361.5 663.4L350.5 663.4Z" fill="#0000ff"/><path d="M357.2 619.9L362.7 629.3L351.7 629.3Z" fill="#0000ff"/><path d="M390.25 610.35L395.75 619.75L384.75 619.75Z" fill="#0000ff"/><path d="M425.2 610.4L430.7 619.8L419.7 619.8Z" fill="#0000ff"/><path d="M451 611.1L456.5 620.5L445.5 620.5Z" fill="#0000ff"/>
<rect x="649.48" y="712.56" width="23.95" height="258.14" fill="#0000ff" stroke="#000" stroke-width="1.2"/><rect x="673.43" y="691.2" width="23.95" height="279.5" fill="#ff8000" stroke="#000" stroke-width="1.2"/><rect x="697.38" y="685.27" width="23.95" height="285.43" fill="#008000" stroke="#000" stroke-width="1.2"/><rect x="739.18" y="711.37" width="23.95" height="259.33" fill="#0000ff" stroke="#000" stroke-width="1.2"/><rect x="763.13" y="667.47" width="23.95" height="303.23" fill="#ff8000" stroke="#000" stroke-width="1.2"/><rect x="787.08" y="667.47" width="23.95" height="303.23" fill="#008000" stroke="#000" stroke-width="1.2"/><rect x="828.88" y="795.61" width="23.95" height="175.09" fill="#0000ff" stroke="#000" stroke-width="1.2"/><rect x="852.83" y="737.47" width="23.95" height="233.23" fill="#ff8000" stroke="#000" stroke-width="1.2"/><rect x="876.77" y="690.02" width="23.95" height="280.68" fill="#008000" stroke="#000" stroke-width="1.2"/><rect x="918.58" y="775.44" width="23.95" height="195.26" fill="#0000ff" stroke="#000" stroke-width="1.2"/><rect x="942.53" y="729.17" width="23.95" height="241.53" fill="#ff8000" stroke="#000" stroke-width="1.2"/><rect x="966.48" y="712.56" width="23.95" height="258.14" fill="#008000" stroke="#000" stroke-width="1.2"/><line x1="640.7" y1="638.5" x2="640.7" y2="971.4" stroke="#000" stroke-width="1.6"/><line x1="640" y1="970.7" x2="999" y2="970.7" stroke="#000" stroke-width="1.6"/><line x1="635.1" y1="970.7" x2="640.7" y2="970.7" stroke="#000" stroke-width="1.6"/><text x="0" y="0" transform="translate(631.3 975.7)" font-size="20" text-anchor="end" font-weight="normal">0</text><line x1="635.1" y1="923.24" x2="640.7" y2="923.24" stroke="#000" stroke-width="1.6"/><text x="0" y="0" transform="translate(631.3 928.24)" font-size="20" text-anchor="end" font-weight="normal">40</text><line x1="635.1" y1="875.79" x2="640.7" y2="875.79" stroke="#000" stroke-width="1.6"/><text x="0" y="0" transform="translate(631.3 880.79)" font-size="20" text-anchor="end" font-weight="normal">80</text><line x1="635.1" y1="828.33" x2="640.7" y2="828.33" stroke="#000" stroke-width="1.6"/><text x="0" y="0" transform="translate(631.3 833.33)" font-size="20" text-anchor="end" font-weight="normal">120</text><line x1="635.1" y1="780.87" x2="640.7" y2="780.87" stroke="#000" stroke-width="1.6"/><text x="0" y="0" transform="translate(631.3 785.87)" font-size="20" text-anchor="end" font-weight="normal">160</text><line x1="635.1" y1="733.41" x2="640.7" y2="733.41" stroke="#000" stroke-width="1.6"/><text x="0" y="0" transform="translate(631.3 738.41)" font-size="20" text-anchor="end" font-weight="normal">200</text><line x1="635.1" y1="685.96" x2="640.7" y2="685.96" stroke="#000" stroke-width="1.6"/><text x="0" y="0" transform="translate(631.3 690.96)" font-size="20" text-anchor="end" font-weight="normal">240</text><line x1="635.1" y1="638.5" x2="640.7" y2="638.5" stroke="#000" stroke-width="1.6"/><text x="0" y="0" transform="translate(631.3 643.5)" font-size="20" text-anchor="end" font-weight="normal">280</text><line x1="637.5" y1="946.97" x2="640.7" y2="946.97" stroke="#000" stroke-width="1.6"/><line x1="637.5" y1="899.51" x2="640.7" y2="899.51" stroke="#000" stroke-width="1.6"/><line x1="637.5" y1="852.06" x2="640.7" y2="852.06" stroke="#000" stroke-width="1.6"/><line x1="637.5" y1="804.6" x2="640.7" y2="804.6" stroke="#000" stroke-width="1.6"/><line x1="637.5" y1="757.14" x2="640.7" y2="757.14" stroke="#000" stroke-width="1.6"/><line x1="637.5" y1="709.69" x2="640.7" y2="709.69" stroke="#000" stroke-width="1.6"/><line x1="637.5" y1="662.23" x2="640.7" y2="662.23" stroke="#000" stroke-width="1.6"/><line x1="685.4" y1="970.7" x2="685.4" y2="976.1" stroke="#000" stroke-width="1.6"/><line x1="775.1" y1="970.7" x2="775.1" y2="976.1" stroke="#000" stroke-width="1.6"/><line x1="864.8" y1="970.7" x2="864.8" y2="976.1" stroke="#000" stroke-width="1.6"/><line x1="954.5" y1="970.7" x2="954.5" y2="976.1" stroke="#000" stroke-width="1.6"/><line x1="640.7" y1="970.7" x2="640.7" y2="973.5" stroke="#000" stroke-width="1.6"/><line x1="730.25" y1="970.7" x2="730.25" y2="973.5" stroke="#000" stroke-width="1.6"/><line x1="820" y1="970.7" x2="820" y2="973.5" stroke="#000" stroke-width="1.6"/><line x1="909.7" y1="970.7" x2="909.7" y2="973.5" stroke="#000" stroke-width="1.6"/><line x1="999" y1="970.7" x2="999" y2="973.5" stroke="#000" stroke-width="1.6"/><text x="581.2" y="843.9" font-size="20" transform="rotate(-90 581.2 843.9)">T<tspan font-size="12.5" dy="7.8">50%</tspan><tspan dy="-7.8"> (</tspan><tspan font-size="10" dy="-10.5">o</tspan><tspan dy="10.5">C)</tspan></text><text x="650.2" y="605.2" font-size="29" font-weight="bold">(d) T<tspan font-size="17.2" dy="12">50%</tspan></text><rect x="889.1" y="597.3" width="37" height="17.3" fill="#0000ff" stroke="#000" stroke-width="1.2"/><text x="0" y="0" transform="translate(932.5 612.3)" font-size="16.7" text-anchor="start" font-weight="normal">Fresh</text><rect x="889.1" y="618.9" width="37" height="17.3" fill="#ff8000" stroke="#000" stroke-width="1.2"/><text x="0" y="0" transform="translate(932.5 633.9)" font-size="16.7" text-anchor="start" font-weight="normal">Sulfated</text><rect x="889.1" y="640.5" width="37" height="17.3" fill="#008000" stroke="#000" stroke-width="1.2"/><text x="0" y="0" transform="translate(932.5 655.5)" font-size="16.7" text-anchor="start" font-weight="normal">Aged</text><text x="0" y="0" font-size="20" transform="translate(665.9 1034.2) rotate(-45)">Pt/Al<tspan font-size="12.5" dy="8.5">2</tspan><tspan dy="-8.5">O</tspan><tspan font-size="12.5" dy="8.5">3</tspan></text><text x="0" y="0" font-size="20" transform="translate(749.8 1034.1) rotate(-45)">Pt/SiO<tspan font-size="12.5" dy="8.5">2</tspan></text><text x="0" y="0" font-size="20" transform="translate(801.6 1066.7) rotate(-45)">Pt/TiO<tspan font-size="12.5" dy="8.5">2</tspan><tspan dy="-8.5">-SiO</tspan><tspan font-size="12.5" dy="8.5">2</tspan></text><text x="0" y="0" font-size="20" transform="translate(890.7 1067.9) rotate(-45)">Pt/ZrO<tspan font-size="12.5" dy="8.5">2</tspan><tspan dy="-8.5">-SiO</tspan><tspan font-size="12.5" dy="8.5">2</tspan></text>
</svg></body></html>
